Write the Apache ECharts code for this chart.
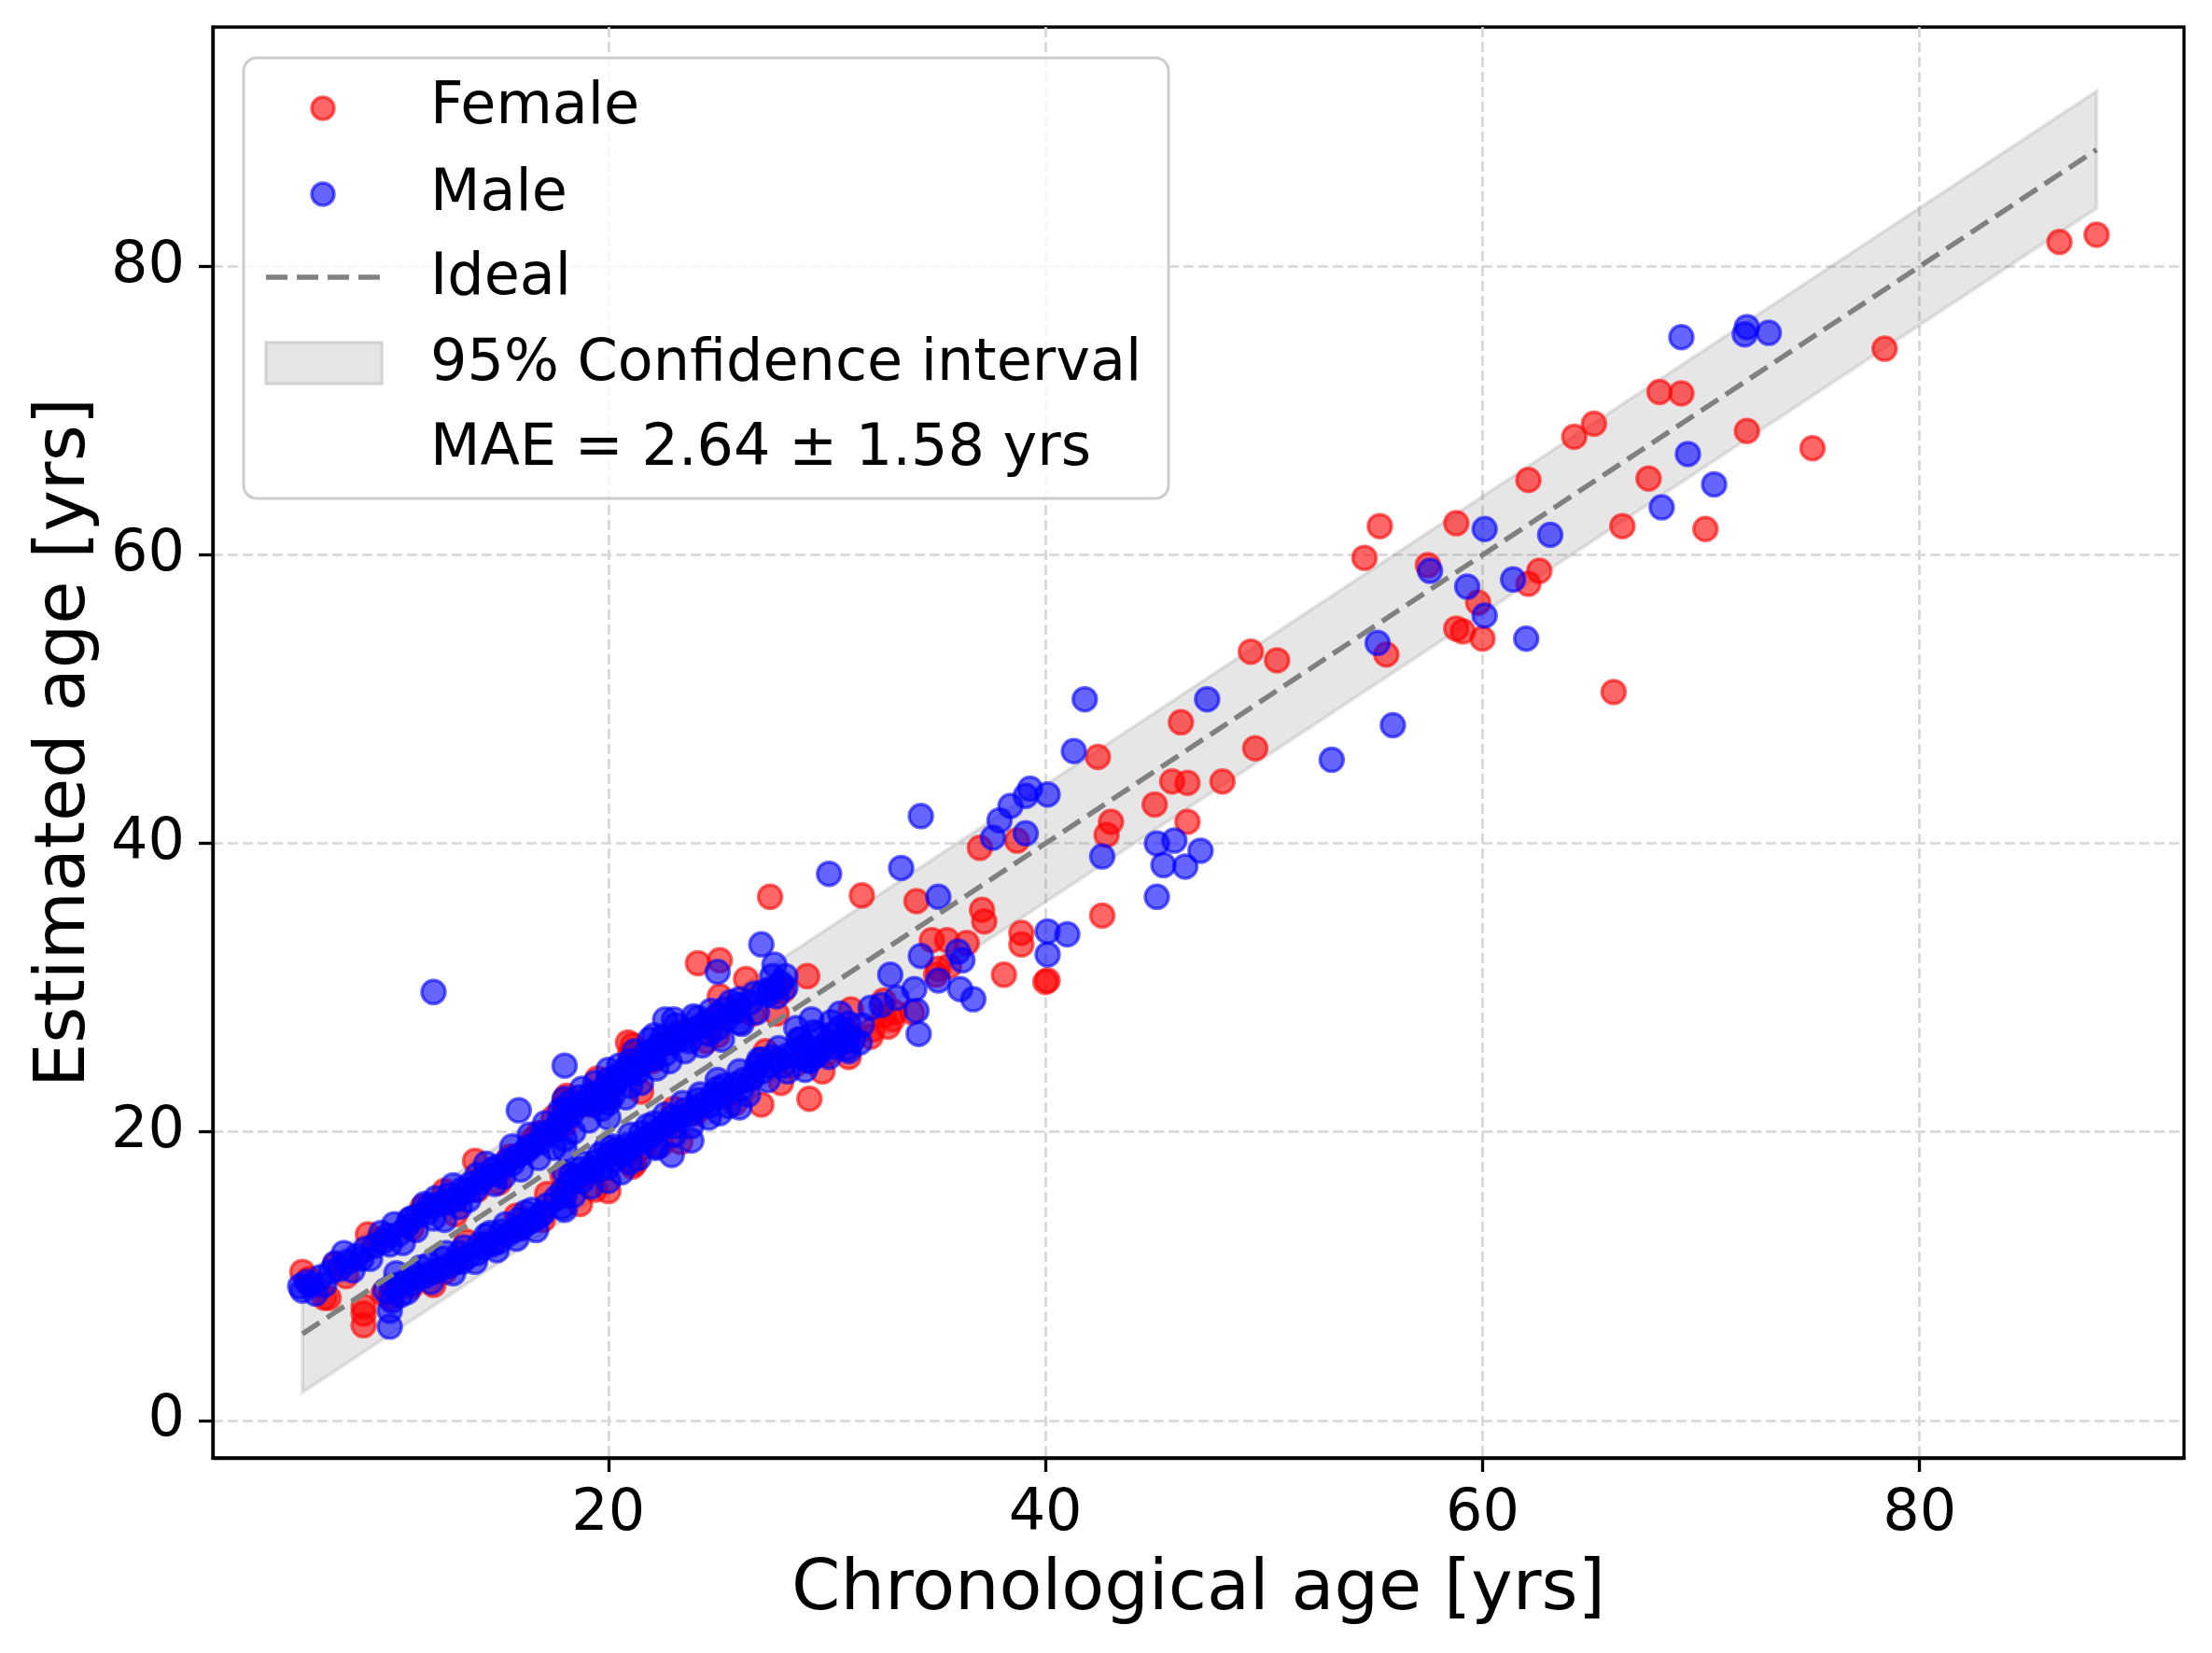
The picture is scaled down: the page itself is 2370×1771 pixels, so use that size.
<!DOCTYPE html>
<html>
<head>
<meta charset="utf-8">
<script src="https://cdn.jsdelivr.net/npm/echarts@6/dist/echarts.min.js"></script>
<style>
html,body{margin:0;padding:0;background:#fff;}
#chart{width:2370px;height:1771px;}
</style>
</head>
<body>
<div id="chart"></div>
<script>
// ---------- data ----------
const xTicks = [20, 40, 60, 80];
const yTicks = [0, 20, 40, 60, 80];

const female = [
[88.1,82.2],[86.4,81.7],[78.4,74.3],[75.1,67.4],[72.1,68.6],[70.2,61.8],[69.1,71.2],[68.1,71.3],[67.6,65.3],[66.4,62.0],
[66.0,50.5],[65.1,69.1],[64.2,68.2],[62.6,58.9],[62.1,58.0],[62.1,65.2],[60.0,54.2],[59.8,56.7],[59.1,54.7],[58.8,54.9],
[58.8,62.2],[57.5,59.3],[55.6,53.1],[55.3,62.0],[54.6,59.8],[50.6,52.7],[49.6,46.6],[49.4,53.3],[48.1,44.3],[46.5,44.2],
[46.5,41.5],[46.2,48.4],[45.8,44.3],[45.0,42.7],[43.0,41.5],[42.8,40.6],[42.6,35.0],[42.4,46.0],
[40.1,30.5],[40.0,30.4],[38.9,33.8],[38.9,33.0],[38.7,40.2],[38.1,30.9],[37.2,34.6],[37.1,35.4],[37.0,39.7],[36.4,33.1],
[35.6,31.5],[35.5,33.3],[35.1,31.3],[35.0,30.9],[34.8,33.3],[34.1,36.0],[33.9,28.3],[33.1,28.3],[33.0,27.8],[32.8,27.3],
[32.6,28.1],[32.6,29.1],[32.1,27.1],[32.0,26.6],[31.6,36.4],[31.1,28.5],[31.0,26.9],[31.0,25.2],[30.5,26.2],[30.0,25.4],
[29.1,30.8],[29.2,22.3],[28.5,24.6],[28.0,29.8],[27.9,23.4],[27.7,28.2],[27.7,30.0],[27.4,36.3],[27.0,21.9],[26.6,28.2],
[26.5,23.6],[26.3,30.6],[25.9,28.4],[25.5,22.6],[25.1,31.9],[25.1,29.4],[25.0,28.0],[25.0,26.7],[24.1,31.7],[24.0,21.3],
[24.5,26.3],[23.5,27.0],
[23.3,19.3],[22.4,19.1],[22.0,24.9],[22.0,19.8],[21.1,26.0],[21.0,25.4],[21.1,17.6],[21.2,17.8],[20.9,26.2],[20.5,18.6],
[20.0,22.4],[20.0,15.9],[19.0,21.9],[19.0,17.0],[18.7,15.0],[18.1,22.5],[18.0,22.2],[18.0,21.3],[18.0,20.5],[17.9,17.0],
[17.2,15.7],[16.5,19.4],[16.0,13.4],[15.5,18.3],[14.5,12.3],[14.0,16.0],[13.9,18.0],[12.5,15.9],[12.5,10.3],[11.0,13.3],
[11.0,9.3],[10.0,8.5],[9.7,8.8],[9.5,12.5],[8.8,7.9],[8.8,7.4],[8.8,6.6],[7.5,10.8],[7.2,8.5],[7.0,8.5],[6.0,10.3],
[6.3,9.8],[8.0,10.0],[9.0,12.9],[11.5,14.8],[13.0,14.3],[15.0,16.5],[16.8,19.9],[17.5,21.0],[19.5,23.7],[21.5,22.8],
[22.8,26.2],[24.8,27.6],[12.0,9.4],[13.5,12.4],[15.8,14.2],[17.0,13.9],[19.4,16.0],[21.6,18.9],[23.0,21.6],[25.8,22.0],
[27.2,25.6],[29.8,24.2]
];

const male = [
[73.1,75.4],[72.1,75.8],[72.0,75.3],[70.6,64.9],[69.4,67.0],[69.1,75.1],[68.2,63.3],[63.1,61.4],[62.0,54.2],[61.4,58.3],
[60.1,61.8],[60.1,55.8],[59.3,57.8],[57.6,58.9],[55.9,48.2],[55.2,53.9],[53.1,45.8],[47.4,50.0],[47.1,39.5],[46.4,38.4],
[45.9,40.2],[45.4,38.5],[45.1,40.0],[45.1,36.3],[42.6,39.1],[41.8,50.0],[41.3,46.4],[41.0,33.7],[40.1,43.4],[40.1,33.9],
[40.1,32.3],[39.3,43.8],[39.1,43.3],[39.1,40.7],[38.4,42.6],[37.9,41.6],[37.6,40.4],[36.7,29.2],[36.1,29.9],[36.0,32.5],
[36.2,31.9],[35.1,36.3],[35.1,30.5],[34.3,41.9],[34.3,32.2],[34.2,26.8],[34.1,28.4],[34.0,29.9],[33.4,38.3],[33.2,29.3],
[32.9,30.9],[32.5,28.8],[32.0,28.6],[31.0,26.7],[31.0,25.6],[30.9,25.8],[30.2,27.6],[30.1,37.9],[29.4,26.9],[29.4,25.2],
[29.3,27.8],[29.0,24.3],[28.1,30.8],[28.1,30.0],[27.6,31.6],[27.7,29.4],[27.1,29.7],[27.0,33.0],[26.0,29.2],[26.0,27.6],
[26.0,21.7],[25.1,21.3],[25.0,31.1],[23.8,19.4],[23.0,27.8],[22.6,27.8],[22.9,18.4],[22.2,18.9],[22.1,26.7],[18.0,24.6],
[15.9,21.5],[12.0,29.7],[10.0,6.5],[10.0,7.6],[10.1,8.3],[30.6,28.2],[31.5,26.2],[28.6,27.2],[28.8,26.4],
[5.9,9.3],[6.0,9.0],[6.4,9.4],[6.8,9.9],[7.3,10.3],[7.7,10.5],[8.1,11.0],[8.5,11.4],[8.9,11.9],[9.3,12.1],
[9.7,12.4],[10.0,12.2],[10.4,12.9],[10.8,13.5],[11.0,14.0],[11.3,14.2],[11.7,14.4],[12.0,14.0],[12.3,15.0],[12.7,15.6],
[13.0,15.3],[13.3,16.0],[13.7,16.4],[14.0,17.0],[14.3,16.8],[14.7,17.4],[15.0,17.6],[15.4,18.0],[15.8,18.3],[16.2,18.6],
[16.5,19.0],[16.9,19.3],[17.2,19.8],[17.6,20.2],[18.0,20.9],[18.0,21.6],[18.0,19.5],[18.3,21.2],[18.6,21.8],[18.9,22.0],
[19.2,22.6],[19.5,22.2],[19.8,23.0],[20.0,23.6],[20.0,21.0],[20.0,22.0],[20.3,23.3],[20.6,23.8],[21.0,24.2],[21.0,24.9],
[21.0,23.2],[21.4,24.6],[21.8,25.0],[22.0,25.6],[22.3,26.0],[22.6,25.4],[23.0,26.2],[23.4,26.5],[23.8,27.0],[24.2,27.3],
[24.6,26.8],[25.0,27.2],[25.0,28.1],[25.4,27.8],[25.8,28.4],[26.5,29.0],[27.3,29.5],[27.9,30.3],
[6.6,8.8],[7.0,9.4],[7.9,11.6],[8.3,10.4],[9.1,11.2],[9.6,13.0],[10.2,13.6],[10.6,12.3],[11.2,13.2],[11.6,15.0],
[12.1,15.4],[12.5,13.9],[12.9,16.3],[13.2,14.8],[13.6,15.3],[13.9,16.0],[14.4,17.8],[14.8,16.4],[15.2,16.9],[15.6,19.0],
[16.0,17.4],[16.4,19.8],[16.8,18.2],[17.1,20.6],[17.5,18.9],[17.8,21.5],[18.0,22.3],[18.0,18.8],[18.4,20.0],[18.8,23.0],
[19.1,20.8],[19.4,23.4],[19.7,21.6],[20.0,24.3],[20.2,22.5],[20.5,24.6],[20.8,22.4],[21.2,25.6],[21.5,23.4],[21.9,26.4],
[22.2,24.4],[22.5,26.6],[22.8,24.9],[23.1,27.4],[23.5,25.6],[23.9,28.0],[24.3,26.0],[24.7,28.4],[25.2,26.4],[25.6,29.0],
[26.1,27.5],[26.8,28.3],[27.5,30.8],
[6.2,9.6],[7.5,10.9],[8.7,11.2],[9.9,12.8],[10.9,13.9],[11.8,14.9],[12.6,15.1],[13.4,15.8],[14.1,16.5],[14.9,17.1],
[15.6,17.8],[16.3,18.9],[17.0,19.9],[17.7,20.6],[18.2,22.0],[18.7,22.4],[19.3,21.9],[19.9,22.6],[20.4,23.9],[20.9,24.5],
[21.3,24.1],[21.7,25.4],[22.1,25.1],[22.7,26.2],[23.2,26.8],[23.7,26.3],[24.1,27.9],[24.5,27.6],[25.3,28.5],[26.0,28.8],
[26.7,29.6],[27.4,29.9],
[9.8,9.0],[10.1,9.3],[10.4,9.4],[10.7,9.6],[11.0,9.5],[11.3,9.9],[11.6,10.0],[12.0,10.3],[12.3,10.5],[12.7,10.7],
[13.0,11.0],[13.3,11.0],[13.6,11.4],[14.0,11.6],[14.3,12.0],[14.7,12.2],[15.0,12.4],[15.4,12.9],[15.7,13.2],[16.0,13.3],
[16.3,13.7],[16.6,13.9],[16.9,14.2],[17.9,14.8],[18.0,15.6],[18.2,16.4],[18.5,16.8],[18.8,16.6],[19.0,17.2],[19.3,17.5],
[19.6,17.4],[20.0,17.6],[20.0,18.4],[20.3,18.1],[20.7,18.5],[21.0,18.9],[21.0,17.9],[21.3,19.2],[21.7,19.5],[22.0,19.8],
[22.4,20.2],[22.7,20.6],[23.0,20.4],[23.3,21.0],[23.7,21.2],[24.0,21.6],[24.3,21.9],[24.6,21.8],[25.0,22.4],[25.0,23.0],
[25.4,22.7],[25.8,23.3],[26.2,23.6],[26.6,23.8],[27.0,24.2],[27.0,25.0],[27.4,24.6],[27.8,25.0],[28.2,25.3],[28.6,25.6],
[29.0,26.0],[29.2,24.9],[29.6,25.4],[30.0,26.2],[30.4,25.9],[30.8,26.3],[31.0,27.5],
[10.3,10.2],[10.8,8.9],[11.4,10.6],[11.9,9.6],[12.4,11.2],[12.9,10.2],[13.4,12.0],[13.9,11.0],[14.4,12.8],[14.9,11.8],
[15.3,13.6],[15.8,12.6],[16.2,14.4],[16.7,13.2],[17.2,14.9],[17.6,15.4],[18.0,14.6],[18.0,17.2],[18.4,15.6],[18.9,17.8],
[19.2,16.2],[19.6,18.4],[20.0,16.6],[20.2,19.0],[20.6,17.2],[21.0,19.8],[21.4,18.2],[21.8,20.4],[22.2,19.0],[22.6,21.2],
[23.0,19.8],[23.4,22.0],[23.8,20.4],[24.2,22.6],[24.6,21.0],[25.0,23.6],[25.5,21.8],[26.0,24.2],[26.4,22.6],[26.9,25.0],
[27.3,23.6],[27.8,25.8],[28.2,24.2],[28.7,26.4],[29.1,25.0],[29.6,26.8],[30.1,25.2],[30.6,27.2],[31.2,26.4],[31.6,27.4],
[10.5,8.7],[11.1,10.2],[11.8,10.8],[12.6,11.6],[13.2,11.6],[14.1,12.2],[14.6,13.0],[15.1,13.1],[15.9,13.9],[16.5,14.6],
[17.0,14.4],[17.9,15.9],[18.3,17.0],[18.7,17.4],[19.4,17.9],[19.9,18.9],[20.4,18.8],[20.9,19.1],[21.5,19.9],[22.1,20.6],
[22.9,21.0],[23.5,21.5],[24.1,22.2],[24.8,22.6],[25.3,23.2],[26.1,23.0],[26.8,24.6],[27.5,25.2],[28.0,24.6],[28.9,25.3],
[29.8,25.8],[30.3,26.8]
];

const idealAge = [6.0, 88.1];
const idealEst = [6.0, 88.1];
const ciAge = [6.0, 88.1];
const ciLower = [1.94, 84.04];
const ciUpper = [10.06, 92.16];

const legendLabels = ['Female', 'Male', 'Ideal', '95% Confidence interval', 'MAE = 2.64 \u00b1 1.58 yrs'];

// ---------- chart ----------
const FONT = '"DejaVu Sans", "Liberation Sans", sans-serif';
const chart = echarts.init(document.getElementById('chart'), null, {renderer: 'canvas'});

const gridCfg = {left: 228, right: 30, top: 29, bottom: 209};
const splitStyle = {color: '#d6d6d6', width: 2.7, type: [11, 5]};

const option = {
  animation: false,
  backgroundColor: '#ffffff',
  grid: Object.assign({show: true, borderColor: '#000', borderWidth: 3.3, backgroundColor: 'transparent', containLabel: false}, gridCfg),
  xAxis: {
    type: 'value', min: 1.9, max: 92.1,
    name: 'Chronological age [yrs]', nameLocation: 'middle', nameGap: 105,
    nameTextStyle: {fontFamily: FONT, fontSize: 75, color: '#000'},
    axisLine: {show: true, onZero: false, lineStyle: {color: '#000', width: 3.3}},
    axisTick: {show: true, customValues: xTicks, length: 15, lineStyle: {color: '#000', width: 3.3}},
    axisLabel: {customValues: xTicks, fontFamily: FONT, fontSize: 62, color: '#000', margin: 30},
    splitLine: {show: true, lineStyle: splitStyle}
  },
  yAxis: {
    type: 'value', min: -2.6, max: 96.6,
    name: 'Estimated age [yrs]', nameLocation: 'middle', nameGap: 120,
    nameTextStyle: {fontFamily: FONT, fontSize: 75, color: '#000'},
    axisLine: {show: true, onZero: false, lineStyle: {color: '#000', width: 3.3}},
    axisTick: {show: true, customValues: yTicks, length: 15, lineStyle: {color: '#000', width: 3.3}},
    axisLabel: {customValues: yTicks, fontFamily: FONT, fontSize: 62, color: '#000', margin: 30},
    splitLine: {show: true, lineStyle: splitStyle}
  },
  series: [
    {
      name: legendLabels[3], type: 'custom', z: 1, silent: true,
      data: [[ciAge[0], ciLower[0]]],
      renderItem: function (params, api) {
        const pts = [];
        for (let i = 0; i < ciAge.length; i++) pts.push(api.coord([ciAge[i], ciUpper[i]]));
        for (let i = ciAge.length - 1; i >= 0; i--) pts.push(api.coord([ciAge[i], ciLower[i]]));
        return {type: 'polygon', shape: {points: pts},
          style: {fill: 'rgba(128,128,128,0.2)', stroke: 'rgba(128,128,128,0.2)', lineWidth: 4}};
      }
    },
    {
      name: legendLabels[0], type: 'scatter', z: 2, silent: true,
      data: female, symbol: 'circle', symbolSize: 25,
      itemStyle: {color: 'rgba(255,0,0,0.6)', borderColor: 'rgba(255,0,0,0.6)', borderWidth: 3.5, opacity: 1}
    },
    {
      name: legendLabels[1], type: 'scatter', z: 2, silent: true,
      data: male, symbol: 'circle', symbolSize: 25,
      itemStyle: {color: 'rgba(0,0,255,0.6)', borderColor: 'rgba(0,0,255,0.6)', borderWidth: 3.5, opacity: 1}
    },
    {
      name: legendLabels[2], type: 'line', z: 5, silent: true,
      data: idealAge.map((a, i) => [a, idealEst[i]]),
      symbol: 'none', lineStyle: {color: '#808080', width: 5.5, type: [22, 9.5]}
    }
  ],
  graphic: [
    {type: 'rect', z: 100, shape: {x: 261, y: 62, width: 991, height: 472, r: 14},
     style: {fill: 'rgba(255,255,255,0.8)', stroke: '#cccccc', lineWidth: 3}},
    {type: 'circle', z: 101, shape: {cx: 346, cy: 116, r: 12},
     style: {fill: 'rgba(255,0,0,0.6)', stroke: 'rgba(255,0,0,0.6)', lineWidth: 3.5}},
    {type: 'circle', z: 101, shape: {cx: 346, cy: 208, r: 12},
     style: {fill: 'rgba(0,0,255,0.6)', stroke: 'rgba(0,0,255,0.6)', lineWidth: 3.5}},
    {type: 'line', z: 101, shape: {x1: 285, y1: 297, x2: 408, y2: 297},
     style: {stroke: '#808080', lineWidth: 5.5, lineDash: [23, 10]}},
    {type: 'rect', z: 101, shape: {x: 285, y: 367, width: 124, height: 44},
     style: {fill: '#e5e5e5', stroke: '#d2d2d2', lineWidth: 3}},
    {type: 'text', z: 101, x: 461, y: 116, style: {text: legendLabels[0], font: '62px ' + FONT, fill: '#000', verticalAlign: 'middle'}},
    {type: 'text', z: 101, x: 461, y: 209, style: {text: legendLabels[1], font: '62px ' + FONT, fill: '#000', verticalAlign: 'middle'}},
    {type: 'text', z: 101, x: 461, y: 299, style: {text: legendLabels[2], font: '62px ' + FONT, fill: '#000', verticalAlign: 'middle'}},
    {type: 'text', z: 101, x: 461, y: 391, style: {text: legendLabels[3], font: '62px ' + FONT, fill: '#000', verticalAlign: 'middle'}},
    {type: 'text', z: 101, x: 461, y: 482, style: {text: legendLabels[4], font: '62px ' + FONT, fill: '#000', verticalAlign: 'middle'}}
  ]
};
chart.setOption(option);
</script>
</body>
</html>
